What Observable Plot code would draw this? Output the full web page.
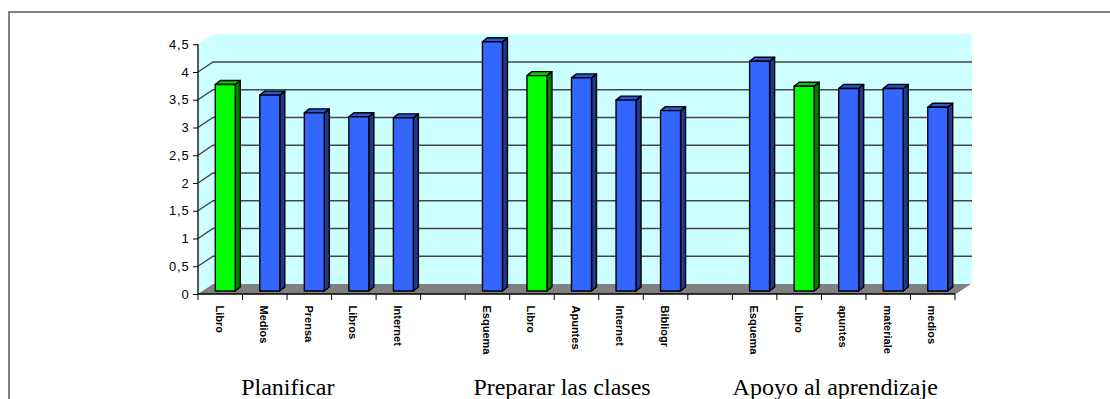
<!DOCTYPE html>
<html><head><meta charset="utf-8">
<script src="https://cdn.jsdelivr.net/npm/d3@7"></script>
<script src="https://cdn.jsdelivr.net/npm/@observablehq/plot@0.6"></script>
<style>
html,body{margin:0;padding:0;background:#fff;overflow:hidden;}
#wrap{position:relative;width:1110px;height:399px;overflow:hidden;}
#frame{position:absolute;left:8px;top:11px;width:1200px;height:500px;border-left:2px solid #808080;border-top:2px solid #808080;}
#chart{position:absolute;left:0;top:0;}
g[aria-label="xlabels"] text{letter-spacing:1px;}
g[aria-label="y-axis tick label"] text{letter-spacing:0.8px;}
g[aria-label="group-labels"] text{word-spacing:5px;}
</style></head><body>
<div id="wrap"><div id="frame"></div><div id="chart"></div></div>
<script>
// ---- data ----
const groupNames = ["Planificar", "Preparar las clases", "Apoyo al aprendizaje"];
const planificarCats = ["Libro", "Medios", "Prensa", "Libros", "Internet"];
const planificarVals = [3.72, 3.53, 3.21, 3.14, 3.12];
const prepararCats = ["Esquema", "Libro", "Apuntes", "Internet", "Bibliogr"];
const prepararVals = [4.49, 3.88, 3.84, 3.44, 3.25];
const apoyoCats = ["Esquema", "Libro", "apuntes", "materiale", "medios"];
const apoyoVals = [4.14, 3.69, 3.65, 3.65, 3.31];
const highlightCat = "Libro";
const yTicks = [0, 0.5, 1, 1.5, 2, 2.5, 3, 3.5, 4, 4.5];

// ---- build table ----
const seriesCats = [planificarCats, prepararCats, apoyoCats];
const seriesVals = [planificarVals, prepararVals, apoyoVals];
const rows = [];
const domain = [];
seriesCats.forEach((cats, g) => {
  if (g > 0) domain.push("gap" + g);
  cats.forEach((c, i) => {
    const key = g + "|" + c;
    domain.push(key);
    rows.push({group: groupNames[g], cat: c, key, value: seriesVals[g][i], hi: c === highlightCat});
  });
});
const groupLabels = groupNames.map((name, g) => ({name, key: g + "|" + seriesCats[g][2], g}));
const labelNudge = [-22, -15, -9];

// ---- 3D layout constants ----
const DX = 15, DY = -10;     // wall depth offset
const BDX = 5, BDY = -4;     // bar depth offset
const BAR_W = 20, BAR_SHIFT = 5, BAR_LIFT = 3;

function backdrop(index, scales) {
  const {x, y} = scales;
  const bw = x(domain[1]) - x(domain[0]);
  const xl = x(domain[0]), xr = x(domain[domain.length - 1]) + bw;
  const y0 = y(0), yTop = y(yTicks[yTicks.length - 1]);
  const g = d3.create("svg:g");
  g.append("path")
    .attr("d", `M${xl},${yTop}L${xl + DX},${yTop + DY}L${xr + DX + 2},${yTop + DY}L${xr + DX + 2},${y0 + DY}L${xl + DX},${y0 + DY}L${xl},${y0}Z`)
    .attr("fill", "#ccffff");
  g.append("path")
    .attr("d", `M${xl},${y0}L${xl + DX},${y0 + DY}L${xr + DX},${y0 + DY}L${xr},${y0}Z`)
    .attr("fill", "#808080");
  for (const t of yTicks.slice(1, -1)) {
    g.append("path")
      .attr("d", `M${xl},${y(t)}L${xl + DX},${y(t) + DY}L${xr + DX + 2},${y(t) + DY}`)
      .attr("fill", "none").attr("stroke", "#454545").attr("stroke-width", 1.4);
  }
  g.append("path").attr("d", `M${xr},${y0}L${xr + DX},${y0 + DY}`)
    .attr("stroke", "#707070").attr("stroke-width", 1);
  g.append("path").attr("d", `M${xl},${yTop}L${xl},${y0}L${xr},${y0}`)
    .attr("fill", "none").attr("stroke", "#000").attr("stroke-width", 1.3);
  for (let i = 0; i <= domain.length; i++) {
    const xx = xl + i * bw;
    g.append("path").attr("d", `M${xx},${y0}L${xx},${y0 + 6}`)
      .attr("stroke", "#000").attr("stroke-width", 1);
  }
  return g.node();
}

function bars3d(index, scales) {
  const {x, y} = scales;
  const bw = x(domain[1]) - x(domain[0]);
  const g = d3.create("svg:g").attr("stroke", "#000").attr("stroke-width", 1.4).attr("stroke-linejoin", "round");
  for (const r of rows) {
    const cx = x(r.key) + bw / 2 + BAR_SHIFT;
    const x0 = cx - BAR_W / 2, x1 = cx + BAR_W / 2;
    const yb = y(0) - BAR_LIFT, yt = y(r.value) - BAR_LIFT;
    const front = r.hi ? "#00ff00" : "#3366ff";
    const side = r.hi ? "#008000" : "#1f3a8f";
    const top = r.hi ? "#00cc00" : "#2a56d8";
    g.append("path").attr("d", `M${x1},${yb}L${x1},${yt}L${x1 + BDX},${yt + BDY}L${x1 + BDX},${yb + BDY}Z`).attr("fill", side);
    g.append("path").attr("d", `M${x0},${yt}L${x1},${yt}L${x1 + BDX},${yt + BDY}L${x0 + BDX},${yt + BDY}Z`).attr("fill", top);
    g.append("rect").attr("x", x0).attr("y", yt).attr("width", BAR_W).attr("height", yb - yt).attr("fill", front);
  }
  return g.node();
}

const groupMarks = groupLabels.map((d, i) =>
  Plot.text([d], {x: "key", y: () => 0, text: "name", dy: 93, dx: labelNudge[i],
    fontSize: 24, fontFamily: "'Liberation Serif', 'Times New Roman', serif",
    ariaLabel: "group-labels", fill: "#000"}));

const chart = Plot.plot({
  width: 1110,
  height: 399,
  marginLeft: 198,
  marginRight: 155,
  marginTop: 44.25,
  marginBottom: 105,
  style: {background: "transparent", fontFamily: "'Liberation Sans', Arial, sans-serif", color: "#000"},
  x: {type: "band", domain, padding: 0, round: false, axis: null},
  y: {domain: [0, 4.5], axis: null},
  marks: [
    backdrop,
    bars3d,
    Plot.axisY({ticks: yTicks, tickSize: 5, tickPadding: 4, fontSize: 13,
      tickFormat: d => String(d).replace(".", ",")}),
    Plot.text(rows, {x: "key", y: () => 0, text: "cat", rotate: 90, textAnchor: "start",
      dy: 11, dx: -1.5, fontSize: 11, fontWeight: "bold", ariaLabel: "xlabels", fill: "#000"}),
    ...groupMarks
  ]
});
document.getElementById("chart").appendChild(chart);
</script>
</body></html>
